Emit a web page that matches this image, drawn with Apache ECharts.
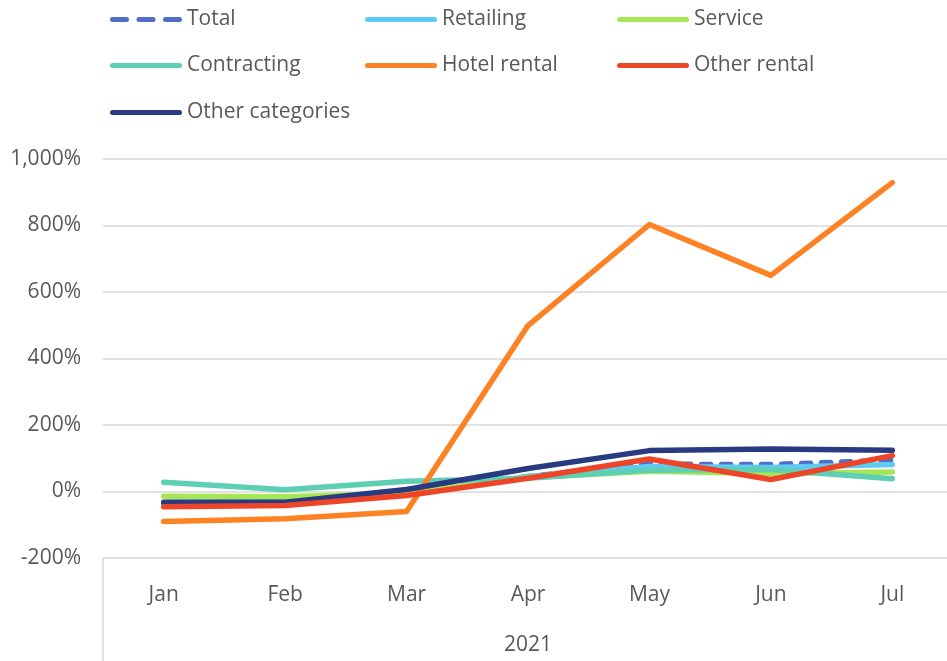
<!DOCTYPE html>
<html>
<head>
<meta charset="utf-8">
<script src="https://cdn.jsdelivr.net/npm/echarts@6/dist/echarts.min.js"></script>
<style>
  html, body { margin: 0; padding: 0; background: #fff; }
  #chart { width: 947px; height: 661px; }
</style>
</head>
<body>
<div id="chart"></div>
<script>
const months = ['Jan', 'Feb', 'Mar', 'Apr', 'May', 'Jun', 'Jul']
const yearLabel = '2021'

const total = [-35, -33, -5, 45, 82, 81, 94]
const retailing = [-33, -30, -8, 45, 75, 72, 81]
const service = [-14, -16, -5, 42, 61, 54, 59]
const contracting = [28, 5, 31, 40, 64, 66, 38]
const hotelRental = [-90, -82, -60, 499, 803, 650, 929]
const otherRental = [-46, -42, -12, 40, 98, 36, 108]
const otherCategories = [-32, -32, 6, 69, 123, 128, 124]

const yTicks = { min: -200, max: 1000, interval: 200 }

const font = '"Liberation Sans Narrow", "Open Sans", sans-serif'
const textColor = '#595959'
const gridColor = '#d9d9d9'

const solidIcon = 'path://M2.5,0h67a2.5,2.5 0 0 1 0,5h-67a2.5,2.5 0 0 1 0,-5z'
const dashIcon = 'path://M2.5,0h14a2.5,2.5 0 0 1 0,5h-14a2.5,2.5 0 0 1 0,-5z' +
  'M29,0h14a2.5,2.5 0 0 1 0,5h-14a2.5,2.5 0 0 1 0,-5z' +
  'M55.5,0h14a2.5,2.5 0 0 1 0,5h-14a2.5,2.5 0 0 1 0,-5z'

const chart = echarts.init(document.getElementById('chart'))

function line(name, data, color, dashed) {
  return {
    name: name,
    type: 'line',
    data: data,
    symbol: 'none',
    lineStyle: {
      color: color,
      width: 5.5,
      cap: 'round',
      join: 'round',
      type: dashed ? [9, 11] : 'solid'
    },
    itemStyle: { color: color }
  }
}

// one legend per item so the three columns line up like the original
const legendPos = [
  ['Total', 110, 9], ['Retailing', 365, 9], ['Service', 617, 9],
  ['Contracting', 110, 55], ['Hotel rental', 365, 55], ['Other rental', 617, 55],
  ['Other categories', 110, 102]
]

const option = {
  animation: false,
  legend: legendPos.map(p => ({
    data: [{ name: p[0], icon: p[0] === 'Total' ? dashIcon : solidIcon }],
    left: p[1],
    top: p[2],
    padding: 0,
    itemWidth: 72,
    itemHeight: 5,
    textStyle: { color: textColor, fontSize: 21, fontFamily: font }
  })),
  grid: {
    left: 103,
    top: 159,
    width: 850,
    bottom: 103,
    outerBoundsMode: 'none'
  },
  xAxis: {
    type: 'category',
    data: months,
    boundaryGap: true,
    name: yearLabel,
    nameLocation: 'middle',
    nameGap: 77,
    nameTextStyle: { color: textColor, fontSize: 21, fontFamily: font },
    axisLine: { show: false },
    axisTick: { show: false },
    axisLabel: { color: textColor, fontSize: 21, fontFamily: font, margin: 27 }
  },
  yAxis: {
    type: 'value',
    min: yTicks.min,
    max: yTicks.max,
    interval: yTicks.interval,
    axisLine: { show: false },
    axisTick: { show: false },
    axisLabel: {
      color: textColor,
      fontSize: 21,
      fontFamily: font,
      margin: 22,
      formatter: (v) => v.toLocaleString('en-US') + '%'
    },
    splitLine: { lineStyle: { color: gridColor, width: 1.5 } }
  },
  // divider at the left edge of the category label area
  graphic: [{
    type: 'line',
    shape: { x1: 103, y1: 558, x2: 103, y2: 661 },
    style: { stroke: gridColor, lineWidth: 1.5 }
  }],
  series: [
    line('Total', total, '#4f6dc9', true),
    line('Retailing', retailing, '#5ccbf5', false),
    line('Service', service, '#a6e553', false),
    line('Contracting', contracting, '#5ecfb3', false),
    line('Hotel rental', hotelRental, '#fd8224', false),
    line('Other categories', otherCategories, '#283a80', false),
    line('Other rental', otherRental, '#ee4528', false)
  ]
}

chart.setOption(option)
</script>
</body>
</html>
